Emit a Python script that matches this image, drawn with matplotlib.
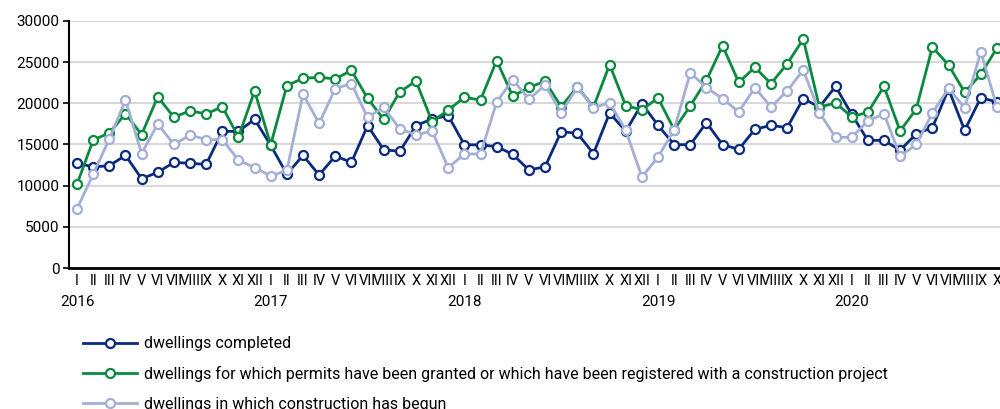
import matplotlib
matplotlib.use("Agg")
import matplotlib.pyplot as plt

# months and years
roman = ["I", "II", "III", "IV", "V", "VI", "VII", "VIII", "IX", "X", "XI", "XII"]
years = [2016, 2017, 2018, 2019, 2020]
n_months = [12, 12, 12, 12, 10]

# dwellings completed
completed = [12750, 12270, 12430, 13680, 10850, 11620, 12830, 12710, 12590, 16600, 16600, 18060,
             14900, 11400, 13680, 11300, 13600, 12830, 17290, 14370, 14170, 17290, 18100, 18500,
             14980, 14940, 14750, 13800, 11900, 12300, 16560, 16360, 13890, 18830, 16600, 19960,
             17330, 14980, 14980, 17650, 14980, 14410, 16840, 17330, 17040, 20570, 19550, 22060,
             18660, 15500, 15500, 14300, 16300, 17040, 21740, 16720, 20690, 20160]
# permits granted / registered
permits = [10200, 15550, 16400, 18740, 16200, 20800, 18300, 19100, 18700, 19600, 15900, 21500,
           14980, 22150, 23040, 23160, 22960, 24000, 20600, 18060, 21400, 22700, 17770, 19190,
           20730, 20400, 25200, 20850, 21940, 22670, 19600, 22000, 19550, 24700, 19700, 19230,
           20650, 16800, 19700, 22800, 27000, 22550, 24370, 22390, 24800, 27800, 19550, 20040,
           18380, 18900, 22060, 16640, 19310, 26840, 24660, 21340, 23520, 26720]
# construction begun
begun = [7200, 11400, 15670, 20400, 13900, 17500, 15000, 16150, 15600, 15600, 13100, 12200,
         11170, 11860, 21100, 17570, 21800, 22400, 18300, 19500, 16900, 16150, 16640, 12190,
         13850, 13850, 20160, 22870, 20500, 22200, 18870, 21940, 19470, 20080, 16720, 11050,
         13480, 16800, 23720, 21900, 20570, 18950, 21900, 19550, 21500, 24050, 18870, 15870,
         15870, 17850, 18740, 13600, 15000, 18830, 21820, 19470, 26270, 19550]

labels = ["dwellings completed",
          "dwellings for which permits have been granted or which have been registered with a construction project",
          "dwellings in which construction has begun"]
colors = ["#0a2a7c", "#0a8a3e", "#a3afd6"]

plt.rcParams['font.family'] = ['Roboto', 'DejaVu Sans']

tick_labels = []
for n in n_months:
    tick_labels += roman[:n]
x = list(range(len(tick_labels)))

fig = plt.figure(figsize=(10, 4.09), dpi=100)
ax = fig.add_axes([0.069, 0.3447, 0.936, 0.604])

for vals, col, lab in zip([completed, permits, begun], colors, labels):
    ax.plot(x, vals, color=col, lw=2.0, marker="o", ms=6.5, mfc="white",
            mec=col, mew=1.6, label=lab, clip_on=False)

ax.set_xlim(-0.5, len(x) - 0.5)
ax.set_ylim(0, 30000)
ax.set_yticks(range(0, 30001, 5000))
ax.yaxis.grid(True, color="#d9d9d9", lw=1.5)
ax.set_axisbelow(True)
ax.set_xticks(x)
ax.set_xticklabels(tick_labels, fontsize=10.5)
ax.tick_params(axis="x", length=0, pad=4)
ax.tick_params(axis="y", labelsize=11, length=4, width=1.2, pad=3)
for s in ["top", "right"]:
    ax.spines[s].set_visible(False)
ax.spines["left"].set_linewidth(1.5)
ax.spines["bottom"].set_linewidth(2)

# year labels under month I
start = 0
for yr, n in zip(years, n_months):
    ax.text(start, -0.11, str(yr), transform=ax.get_xaxis_transform(),
            ha="center", va="top", fontsize=11)
    start += n

fig.legend(loc="upper left", bbox_to_anchor=(0.083, 0.178), frameon=False,
           fontsize=11.5, handlelength=3.4, handletextpad=0.4, labelspacing=0.92,
           borderpad=0, borderaxespad=0)

fig.savefig("out.png", dpi=100)
